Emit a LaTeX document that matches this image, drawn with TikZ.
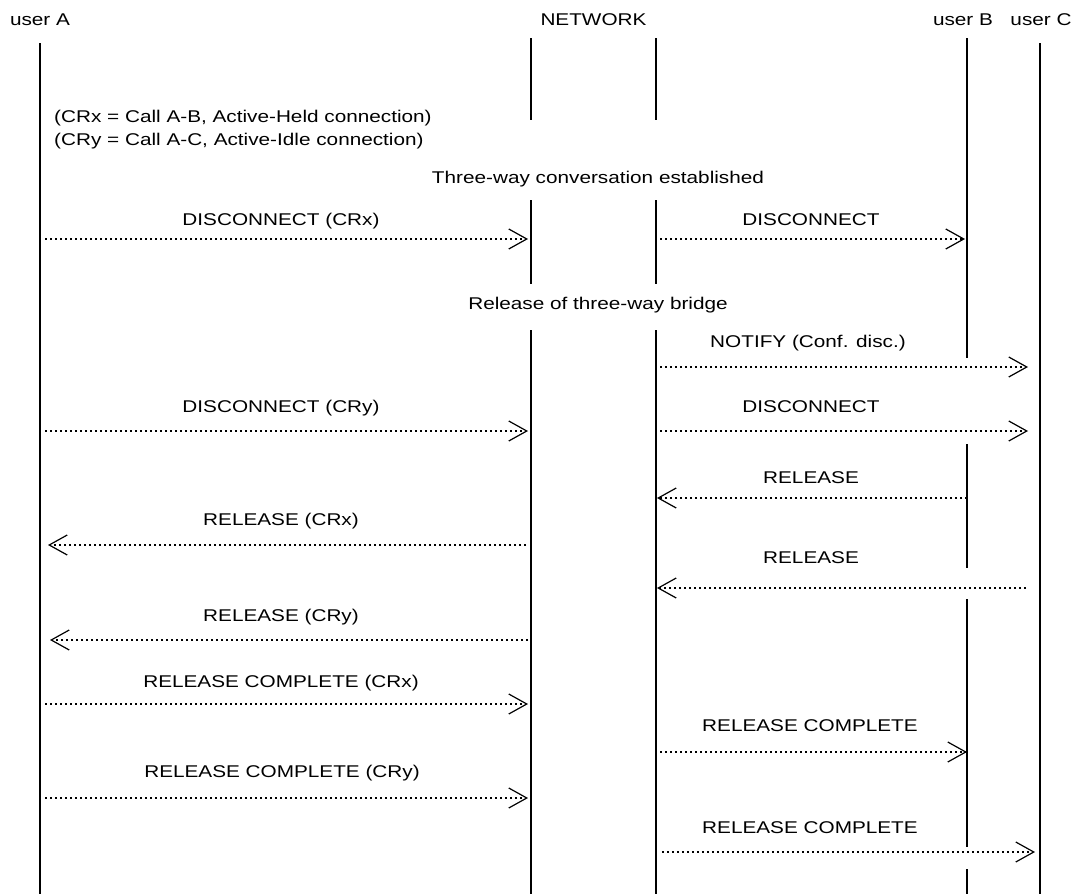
\documentclass[tikz,border=0pt]{standalone}
\usepackage{fontspec}
\setmainfont{Liberation Sans}[FakeStretch=1.22]
\usetikzlibrary{arrows.meta,calc}
\begin{document}
\begin{tikzpicture}[x=1pt,y=-1pt,
  life/.style={line width=1.25pt},
  msg/.style={line width=2pt, dash pattern=on 2pt off 3pt,
    -{Straight Barb[length=18pt,width=20pt,line width=1.2pt]}},
  lbl/.style={anchor=base, inner sep=0pt, font=\fontsize{17}{20}\selectfont},
  lbll/.style={lbl, anchor=base west}]
\useasboundingbox (0,0) rectangle (1079,894);
% lifeline x positions
\coordinate (A) at (40,0);
\coordinate (N1) at (531,0);
\coordinate (N2) at (656,0);
\coordinate (B) at (967,0);
\coordinate (C) at (1040,0);
% headers
\node[lbl] (hA) at (40,25) {user A};
\node[lbl] (hN) at (593.5,25) {NETWORK};
\node[lbl] (hB) at (963,25) {user B};
\node[lbl] (hC) at (1041,25) {user C};
% lifelines (segments)
\draw[life] ($(A)+(0,43)$) -- ($(A)+(0,894)$);
\foreach \a/\b in {38/120,200/284,330/894}{
  \draw[life] ($(N1)+(0,\a)$) -- ($(N1)+(0,\b)$);
  \draw[life] ($(N2)+(0,\a)$) -- ($(N2)+(0,\b)$);
}
\foreach \a/\b in {38/358,444/568,599/847,869/894}{
  \draw[life] ($(B)+(0,\a)$) -- ($(B)+(0,\b)$);
}
\draw[life] ($(C)+(0,43)$) -- ($(C)+(0,894)$);
% notes
\node[lbll] (n1) at (54,122) {(CRx = Call A-B, Active-Held connection)};
\node[lbll] (n2) at (54,145) {(CRy = Call A-C, Active-Idle connection)};
\node[lbl] (n3) at (598,183) {Three-way conversation established};
\node[lbl] (n4) at (598,309) {Release of three-way bridge};
% message y levels
\coordinate (m1) at (0,239);
\coordinate (m2) at (0,367);
\coordinate (m3) at (0,431);
\coordinate (m4) at (0,498);
\coordinate (m5) at (0,545);
\coordinate (m6) at (0,588);
\coordinate (m7) at (0,640);
\coordinate (m8) at (0,704);
\coordinate (m9) at (0,752);
\coordinate (m10) at (0,798);
\coordinate (m11) at (0,852);
% messages
\draw[msg] ($(m1 -| A)+(5,0)$) -- ($(m1 -| N1)+(-3,0)$);
\node[lbl] (l1) at (281,225) {DISCONNECT (CRx)};
\draw[msg] ($(m1 -| N2)+(4,0)$) -- ($(m1 -| B)+(-2,0)$);
\node[lbl] (l2) at (811,225) {DISCONNECT};
\draw[msg] ($(m2 -| N2)+(4,0)$) -- ($(m2 -| C)+(-12,0)$);
\node[lbl] (l3) at (808,347) {NOTIFY (Conf. disc.)};
\draw[msg] ($(m3 -| A)+(5,0)$) -- ($(m3 -| N1)+(-3,0)$);
\node[lbl] (l4) at (281,412) {DISCONNECT (CRy)};
\draw[msg] ($(m3 -| N2)+(4,0)$) -- ($(m3 -| C)+(-12,0)$);
\node[lbl] (l5) at (811,412) {DISCONNECT};
\draw[msg] ($(m4 -| B)+(0,0)$) -- ($(m4 -| N2)+(1,0)$);
\node[lbl] (l6) at (811,483) {RELEASE};
\draw[msg] ($(m5 -| N1)+(-5,0)$) -- ($(m5 -| A)+(8,0)$);
\node[lbl] (l7) at (281,525) {RELEASE (CRx)};
\draw[msg] ($(m6 -| C)+(-14,0)$) -- ($(m6 -| N2)+(1,0)$);
\node[lbl] (l8) at (811,563) {RELEASE};
\draw[msg] ($(m7 -| N1)+(-3,0)$) -- ($(m7 -| A)+(10,0)$);
\node[lbl] (l9) at (281,621) {RELEASE (CRy)};
\draw[msg] ($(m8 -| A)+(5,0)$) -- ($(m8 -| N1)+(-3,0)$);
\node[lbl] (l10) at (281,687) {RELEASE COMPLETE (CRx)};
\draw[msg] ($(m9 -| N2)+(4,0)$) -- ($(m9 -| B)+(0,0)$);
\node[lbl] (l11) at (810,731) {RELEASE COMPLETE};
\draw[msg] ($(m10 -| A)+(5,0)$) -- ($(m10 -| N1)+(-3,0)$);
\node[lbl] (l12) at (282,777) {RELEASE COMPLETE (CRy)};
\draw[msg] ($(m11 -| N2)+(6,0)$) -- ($(m11 -| C)+(-5,0)$);
\node[lbl] (l13) at (810,833) {RELEASE COMPLETE};
\end{tikzpicture}
\end{document}
